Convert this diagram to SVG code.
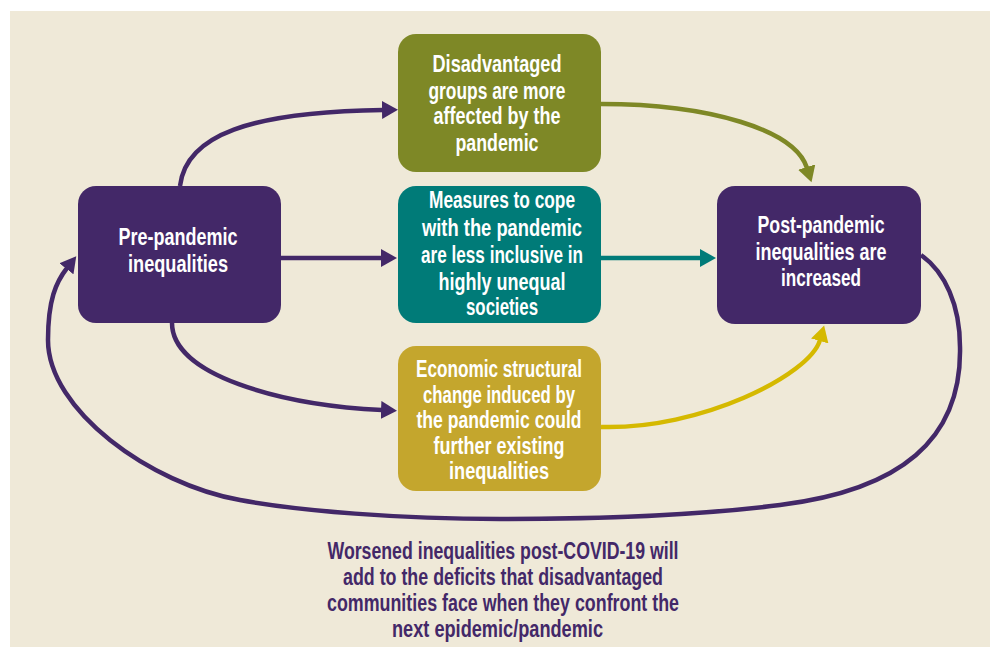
<svg xmlns="http://www.w3.org/2000/svg" width="990" height="647" viewBox="0 0 990 647">
<style>
  .box text, .caption { font-family: "Liberation Sans Narrow", "Liberation Sans", Arial, sans-serif; font-weight: bold; font-size: 23px; text-anchor: middle; }
  .box text { fill: #ffffff; }
  .caption { fill: #432868; }
  .conn { fill: none; stroke-width: 4.5; }
</style>
<defs>
  <marker id="ahP" markerUnits="userSpaceOnUse" markerWidth="18" markerHeight="18" refX="1" refY="9" orient="auto"><path d="M0,0 L16,9 L0,18 z" fill="#432868"/></marker>
  <marker id="ahO" markerUnits="userSpaceOnUse" markerWidth="18" markerHeight="18" refX="1" refY="9" orient="auto"><path d="M0,0 L16,9 L0,18 z" fill="#7e8826"/></marker>
  <marker id="ahT" markerUnits="userSpaceOnUse" markerWidth="18" markerHeight="18" refX="1" refY="9" orient="auto"><path d="M0,0 L16,9 L0,18 z" fill="#007b78"/></marker>
  <marker id="ahG" markerUnits="userSpaceOnUse" markerWidth="18" markerHeight="18" refX="1" refY="9" orient="auto"><path d="M0,0 L16,9 L0,18 z" fill="#d5b900"/></marker>
</defs>
<rect x="0" y="0" width="990" height="647" fill="#ffffff"/>
<rect x="10" y="11" width="980" height="636" fill="#efe9d8"/>

<g id="connectors">
  <path class="conn" stroke="#432868" marker-end="url(#ahP)" d="M180,186 C186,135 250,112 383,110"/>
  <path class="conn" stroke="#432868" marker-end="url(#ahP)" d="M281,258 L382,258"/>
  <path class="conn" stroke="#432868" marker-end="url(#ahP)" d="M172,323 C172,375 280,405 382,410"/>
  <path class="conn" stroke="#7e8826" marker-end="url(#ahO)" d="M601,104 C710,104 795,130 807,168"/>
  <path class="conn" stroke="#007b78" marker-end="url(#ahT)" d="M601,258 L701,258"/>
  <path class="conn" stroke="#d5b900" marker-end="url(#ahG)" d="M601,427 C700,430 810,375 820,340"/>
  <path class="conn" stroke="#432868" marker-end="url(#ahP)" d="M921,255 C945,272 960,305 960,347 C962,440 900,490 780,505 C700,515 600,519 500,519 C400,519 300,511 240,500 C150,484 48,410 48,340 C48,300 56,282 67,268"/>
</g>

<g id="pre" class="box">
  <rect x="78" y="186" width="203" height="137" rx="18" fill="#432868"/>
  <text x="178" y="245" textLength="119" lengthAdjust="spacingAndGlyphs">Pre-pandemic</text>
  <text x="178" y="272" textLength="100" lengthAdjust="spacingAndGlyphs">inequalities</text>
</g>

<g id="disadvantaged" class="box">
  <rect x="398" y="34" width="203" height="138" rx="18" fill="#7e8826"/>
  <text x="497" y="72" textLength="129" lengthAdjust="spacingAndGlyphs">Disadvantaged</text>
  <text x="497" y="99" textLength="137" lengthAdjust="spacingAndGlyphs">groups are more</text>
  <text x="497" y="124" textLength="127" lengthAdjust="spacingAndGlyphs">affected by the</text>
  <text x="497" y="151" textLength="83" lengthAdjust="spacingAndGlyphs">pandemic</text>
</g>

<g id="measures" class="box">
  <rect x="398" y="186" width="203" height="137" rx="18" fill="#007b78"/>
  <text x="502" y="208" textLength="146" lengthAdjust="spacingAndGlyphs">Measures to cope</text>
  <text x="502" y="236" textLength="160" lengthAdjust="spacingAndGlyphs">with the pandemic</text>
  <text x="502" y="263" textLength="162" lengthAdjust="spacingAndGlyphs">are less inclusive in</text>
  <text x="502" y="290" textLength="127" lengthAdjust="spacingAndGlyphs">highly unequal</text>
  <text x="502" y="315" textLength="72" lengthAdjust="spacingAndGlyphs">societies</text>
</g>

<g id="economic" class="box">
  <rect x="398" y="346" width="203" height="145" rx="18" fill="#c4a62d"/>
  <text x="499" y="377" textLength="166" lengthAdjust="spacingAndGlyphs">Economic structural</text>
  <text x="499" y="402.5" textLength="152" lengthAdjust="spacingAndGlyphs">change induced by</text>
  <text x="499" y="428" textLength="165" lengthAdjust="spacingAndGlyphs">the pandemic could</text>
  <text x="499" y="453.5" textLength="131" lengthAdjust="spacingAndGlyphs">further existing</text>
  <text x="499" y="479" textLength="100" lengthAdjust="spacingAndGlyphs">inequalities</text>
</g>

<g id="post" class="box">
  <rect x="717" y="186" width="204" height="138" rx="18" fill="#432868"/>
  <text x="821" y="233" textLength="127" lengthAdjust="spacingAndGlyphs">Post-pandemic</text>
  <text x="821" y="260" textLength="131" lengthAdjust="spacingAndGlyphs">inequalities are</text>
  <text x="821" y="286" textLength="80" lengthAdjust="spacingAndGlyphs">increased</text>
</g>

<g id="caption">
  <text class="caption" x="503" y="559" textLength="351" lengthAdjust="spacingAndGlyphs">Worsened inequalities post-COVID-19 will</text>
  <text class="caption" x="503" y="585" textLength="320" lengthAdjust="spacingAndGlyphs">add to the deficits that disadvantaged</text>
  <text class="caption" x="503" y="611" textLength="352" lengthAdjust="spacingAndGlyphs">communities face when they confront the</text>
  <text class="caption" x="497.5" y="637" textLength="211" lengthAdjust="spacingAndGlyphs">next epidemic/pandemic</text>
</g>
</svg>
